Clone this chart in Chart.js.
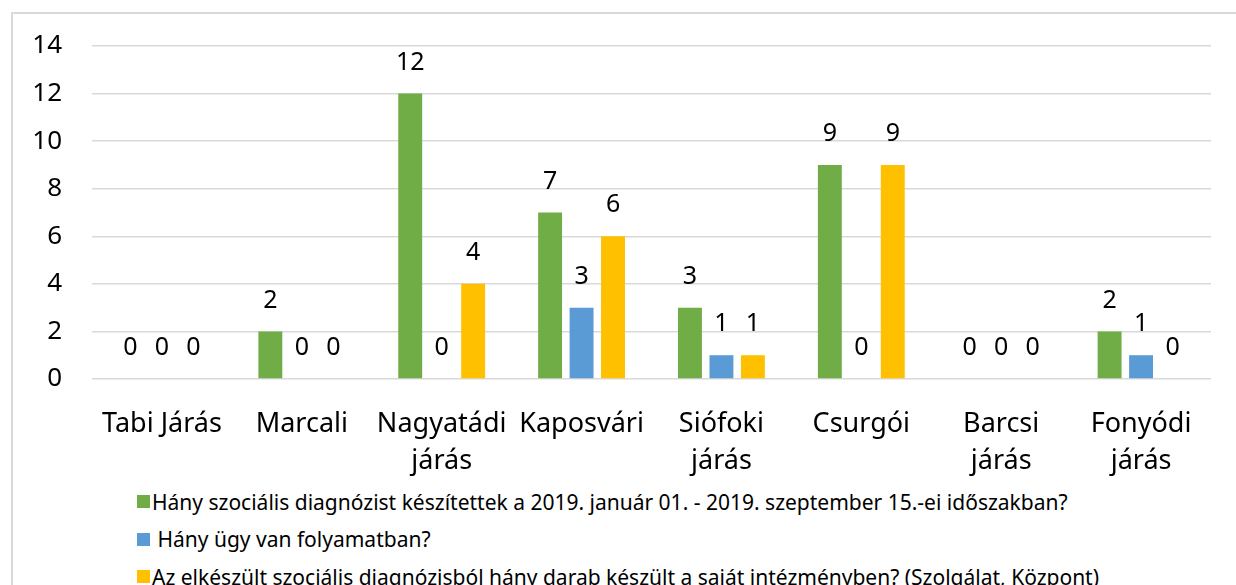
<!DOCTYPE html>
<html>
<head>
<meta charset="utf-8">
<script src="https://cdn.jsdelivr.net/npm/chart.js@4"></script>
<style>
    body { margin: 0; background: #fff; overflow: hidden; }
    #frame { position: absolute; left: 11px; top: 12px; width: 1300px; height: 700px; border: 2px solid #d9d9d9; }
    #wrap { position: absolute; left: 0; top: 0; width: 1236px; height: 480px; }
    #legend { position: absolute; left: 137px; top: 483px; font-family: 'Noto Sans'; font-size: 21px; color: #000; }
    #legend div { height: 37.5px; display: flex; align-items: center; white-space: pre; }
    #legend span.box { display: inline-block; width: 13px; height: 13px; margin-right: 2px; }
</style>
</head>
<body>
<div id="frame"></div>
<div id="wrap"><canvas id="myChart"></canvas></div>
<div id="legend"></div>
<script>
const labels = [
    'Tabi Járás',
    'Marcali',
    ['Nagyatádi', 'járás'],
    'Kaposvári',
    ['Siófoki', 'járás'],
    'Csurgói',
    ['Barcsi', 'járás'],
    ['Fonyódi', 'járás'],
];
const diagnozis = [0, 2, 12, 7, 3, 9, 0, 2];
const folyamatban = [0, 0, 0, 3, 1, 0, 0, 1];
const sajat = [0, 0, 4, 6, 1, 9, 0, 0];
const yTicks = [0, 2, 4, 6, 8, 10, 12, 14];

const data = {
    labels: labels,
    datasets: [
        {
            label: 'Hány szociális diagnózist készítettek a 2019. január 01. - 2019. szeptember 15.-ei időszakban?',
            data: diagnozis,
            backgroundColor: '#70ad47',
        },
        {
            label: ' Hány ügy van folyamatban?',
            data: folyamatban,
            backgroundColor: '#5b9bd5',
        },
        {
            label: 'Az elkészült szociális diagnózisból hány darab készült a saját intézményben? (Szolgálat, Központ)',
            data: sajat,
            backgroundColor: '#ffc000',
        },
    ]
};

Chart.defaults.font.family = 'Noto Sans';
Chart.defaults.color = '#000';

// value labels above each bar
const valueLabels = {
    id: 'valueLabels',
    afterDatasetsDraw(chart) {
        const ctx = chart.ctx;
        ctx.save();
        ctx.font = '25px "Noto Sans"';
        ctx.fillStyle = '#000';
        ctx.textAlign = 'center';
        ctx.textBaseline = 'middle';
        chart.data.datasets.forEach((ds, i) => {
            chart.getDatasetMeta(i).data.forEach((bar, j) => {
                ctx.fillText(String(ds.data[j]), bar.x, bar.y - 31);
            });
        });
        ctx.restore();
    }
};

const config = {
    type: 'bar',
    data: data,
    plugins: [valueLabels],
    options: {
        maintainAspectRatio: false,
        responsive: true,
        animation: false,
        categoryPercentage: 0.675,
        barPercentage: 0.76,
        layout: {
            padding: { top: 46, right: 25, left: 0, bottom: 0 }
        },
        plugins: {
            legend: { display: false },
            title: { display: false },
            tooltip: { enabled: false }
        },
        scales: {
            x: {
                grid: { display: false },
                border: { display: false },
                ticks: {
                    font: { size: 27, lineHeight: 1.4 },
                    padding: 18,
                    maxRotation: 0,
                    autoSkip: false
                },
                afterFit(scale) { scale.height = 101; }
            },
            y: {
                min: 0,
                max: 14,
                afterBuildTicks(scale) {
                    scale.ticks = yTicks.map(v => ({ value: v }));
                },
                grid: {
                    color: '#d9d9d9',
                    lineWidth: 1.5,
                    drawTicks: false
                },
                border: { display: false },
                ticks: {
                    font: { size: 26 },
                    padding: 30
                },
                afterFit(scale) { scale.width = 92; }
            }
        },
    },
};

const myChart = new Chart(
    document.getElementById('myChart'),
    config
);

const legend = document.getElementById('legend');
data.datasets.forEach(ds => {
    const row = document.createElement('div');
    const box = document.createElement('span');
    box.className = 'box';
    box.style.background = ds.backgroundColor;
    row.appendChild(box);
    row.appendChild(document.createTextNode(ds.label));
    legend.appendChild(row);
});
</script>
</body>
</html>
